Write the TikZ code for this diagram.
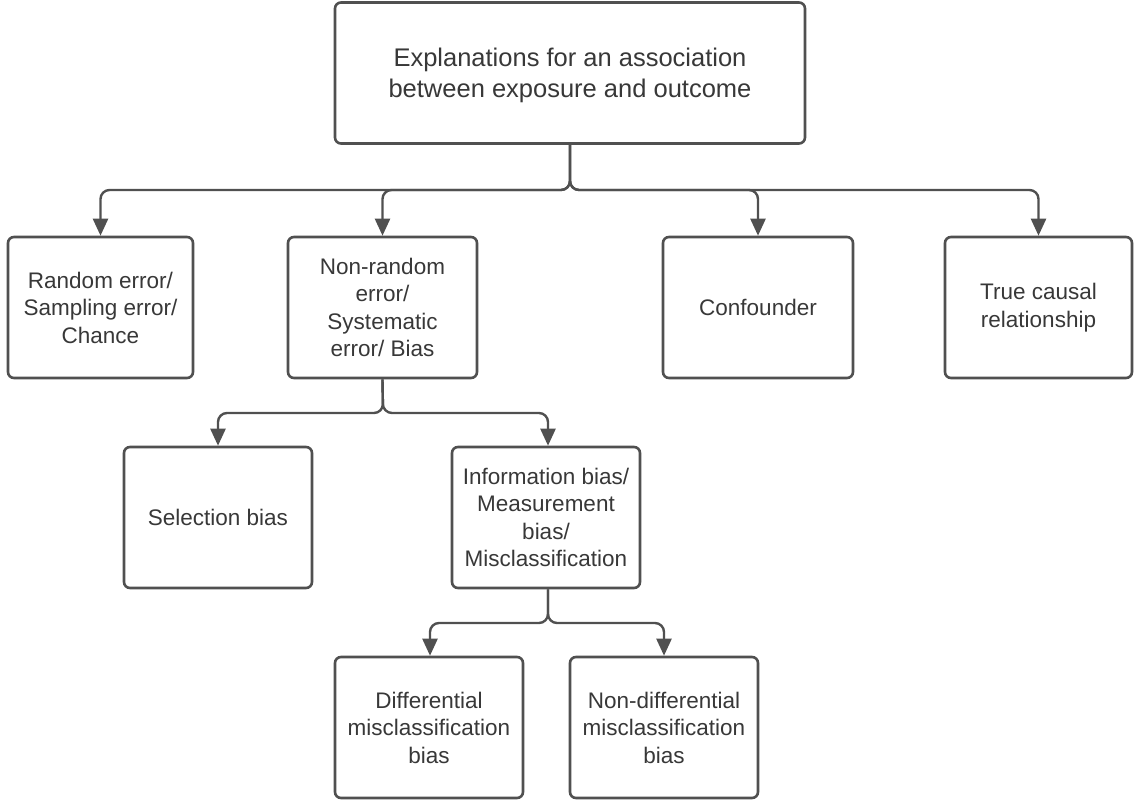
\documentclass[tikz,border=0pt]{standalone}
\usepackage{fontspec}
\setmainfont{Liberation Sans}
\usetikzlibrary{arrows.meta}
\definecolor{boxline}{HTML}{505050}
\definecolor{txt}{HTML}{383838}
\tikzset{
  box/.style={draw=boxline, line width=2.6pt, rounded corners=6pt, fill=white,
    minimum height=141pt, align=center, text=txt, inner sep=2pt,
    font=\fontsize{22.5}{27.5}\selectfont},
  conn/.style={draw=boxline, line width=2.4pt, rounded corners=9pt,
    -{Triangle[width=15pt,length=17pt]}},
}
\begin{document}
\begin{tikzpicture}[x=1pt,y=-1pt]
\useasboundingbox (0,0) rectangle (1134,800);
\node[box, minimum width=470pt, font=\fontsize{25.5}{30.5}\selectfont, text depth=0pt] (top) at (570,73)
  {Explanations for an association\\between exposure and outcome};
\node[box, minimum width=185pt] (rand) at (100.5,307.5) {Random error/\\Sampling error/\\Chance};
\node[box, minimum width=189pt] (nonr) at (382.5,307.5) {Non-random\\error/\\Systematic\\error/ Bias};
\node[box, minimum width=190pt] (conf) at (758,307.5) {Confounder};
\node[box, minimum width=187pt] (true) at (1038.5,307.5) {True causal\\relationship};
\node[box, minimum width=188pt] (sel) at (218,517.5) {Selection bias};
\node[box, minimum width=188pt] (info) at (546,517.5) {Information bias/\\Measurement\\bias/\\Misclassification};
\node[box, minimum width=188pt] (diff) at (429,727.5) {Differential\\misclassification\\bias};
\node[box, minimum width=188pt] (nond) at (664,727.5) {Non-differential\\misclassification\\bias};

\coordinate (j1) at (570,190);
\coordinate (j2) at (383,413);
\coordinate (j3) at (548,623);

\draw[conn] (top.south) -- (j1) -| (rand.north);
\draw[conn] (top.south) -- (j1) -| (nonr.north);
\draw[conn] (top.south) -- (j1) -| (conf.north);
\draw[conn] (top.south) -- (j1) -| (true.north);

\draw[conn] (nonr.south) -- (j2) -| (sel.north);
\draw[conn] (nonr.south) -- (j2) -| ([xshift=2pt]info.north);

\draw[conn] ([xshift=2pt]info.south) -- (j3) -| ([xshift=1pt]diff.north);
\draw[conn] ([xshift=2pt]info.south) -- (j3) -| (nond.north);
\end{tikzpicture}
\end{document}
